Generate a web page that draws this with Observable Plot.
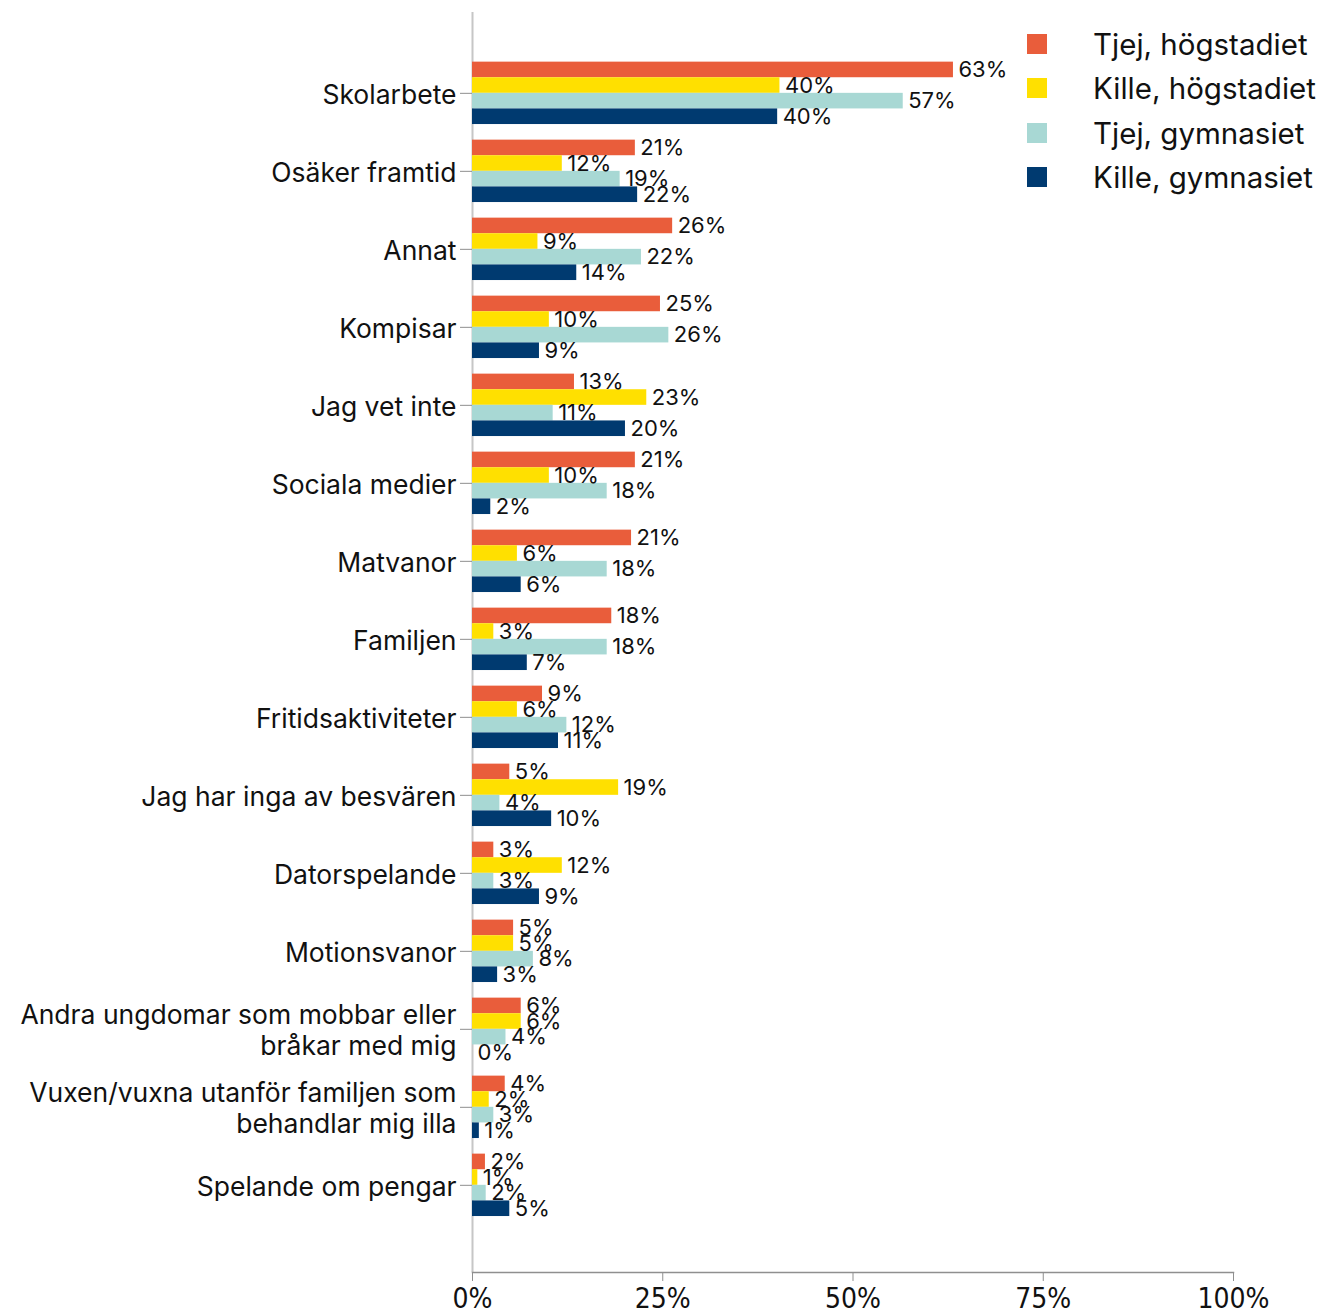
<!DOCTYPE html>
<html><head><meta charset="utf-8">
<script src="https://cdn.jsdelivr.net/npm/d3@7"></script>
<script src="https://cdn.jsdelivr.net/npm/@observablehq/plot@0.6"></script>
<style>
html,body{margin:0;padding:0;background:#fff;overflow:hidden}
#wrap{position:relative;width:1326px;height:1310px}
#legend{position:absolute;left:1027px;top:22px;font-family:Inter,sans-serif;font-size:29.5px;color:#111}
.item{display:flex;align-items:center;height:44.3px;white-space:nowrap}
.sw{width:20px;height:20px;margin-right:46px;flex:none}
</style></head><body><div id="wrap"><div id="chart"></div><div id="legend"></div></div>
<script>
const categories = [
  "Skolarbete",
  "Osäker framtid",
  "Annat",
  "Kompisar",
  "Jag vet inte",
  "Sociala medier",
  "Matvanor",
  "Familjen",
  "Fritidsaktiviteter",
  "Jag har inga av besvären",
  "Datorspelande",
  "Motionsvanor",
  "Andra ungdomar som mobbar eller\nbråkar med mig",
  "Vuxen/vuxna utanför familjen som\nbehandlar mig illa",
  "Spelande om pengar"
];
const series = ["Tjej, högstadiet", "Kille, högstadiet", "Tjej, gymnasiet", "Kille, gymnasiet"];
const colors = ["#E95D3B", "#FFE000", "#A8D8D4", "#003A70"];
const tjejHogstadiet  = [63.2, 21.4, 26.3, 24.7, 13.4, 21.4, 20.9, 18.3, 9.2, 4.9, 2.8, 5.4, 6.4, 4.3, 1.7];
const killeHogstadiet = [40.4, 11.8, 8.6, 10.1, 22.9, 10.1, 5.9, 2.8, 5.9, 19.2, 11.8, 5.4, 6.4, 2.2, 0.7];
const tjejGymnasiet   = [56.6, 19.4, 22.2, 25.8, 10.6, 17.7, 17.7, 17.7, 12.4, 3.6, 2.8, 8.0, 4.4, 2.8, 1.8];
const killeGymnasiet  = [40.1, 21.7, 13.7, 8.8, 20.1, 2.4, 6.4, 7.2, 11.3, 10.4, 8.8, 3.3, 0, 0.9, 4.9];
const xTicks = [0, 25, 50, 75, 100];

const seriesValues = [tjejHogstadiet, killeHogstadiet, tjejGymnasiet, killeGymnasiet];
const bySeries = series.map((s, k) => categories.map((c, i) => ({category: c, series: s, value: seriesValues[k][i]})));

const base = {
  width: 1326, height: 1310,
  marginLeft: 472, marginRight: 93, marginTop: 12, marginBottom: 38,
  style: {fontFamily: "Inter, sans-serif", color: "#111", background: "#fff"},
  x: {domain: [0, 100], axis: null, label: null},
  y: {domain: categories, paddingInner: 0.2, paddingOuter: 0.677, align: 0.47, round: false, axis: null, label: null}
};

// first pass: read the band width of the category scale
const probe = Plot.plot({...base, marks: [Plot.barX(bySeries[0], {y: "category", x: "value"})]});
const q = probe.scale("y").bandwidth / series.length;

const marks = [
  Plot.ruleX([0], {stroke: "#c6c6c6", strokeWidth: 2}),
  Plot.frame({anchor: "bottom", stroke: "#8f8f8f", strokeWidth: 1.5})
];
bySeries.forEach((rows, k) => {
  marks.push(Plot.barX(rows, {y: "category", x: "value", fill: colors[k], insetTop: k * q, insetBottom: (series.length - 1 - k) * q}));
});
bySeries.forEach((rows, k) => {
  marks.push(Plot.text(rows, {y: "category", x: "value", dy: (k - (series.length - 1) / 2) * q, text: d => Math.round(d.value) + "%", textAnchor: "start", dx: 5, fontSize: 22, fill: "#111"}));
});
marks.push(
  Plot.axisY({anchor: "left", label: null, tickSize: 12, tickPadding: 4, fontSize: 26.5, lineHeight: 1.2, stroke: "#8f8f8f", fill: "#111"}),
  Plot.axisX(xTicks, {anchor: "bottom", label: null, tickSize: 9, tickPadding: 7, tickFormat: d => d + "%", fontSize: 28, fontFamily: "'Liberation Sans Narrow', 'DejaVu Sans Condensed', sans-serif", stroke: "#8f8f8f", fill: "#111"})
);

const chart = Plot.plot({...base, marks});
document.getElementById("chart").appendChild(chart);

const legend = document.getElementById("legend");
series.forEach((s, k) => {
  const item = document.createElement("div");
  item.className = "item";
  const sw = document.createElement("span");
  sw.className = "sw";
  sw.style.background = colors[k];
  const t = document.createElement("span");
  t.textContent = s;
  item.appendChild(sw); item.appendChild(t);
  legend.appendChild(item);
});
</script>
</body></html>
